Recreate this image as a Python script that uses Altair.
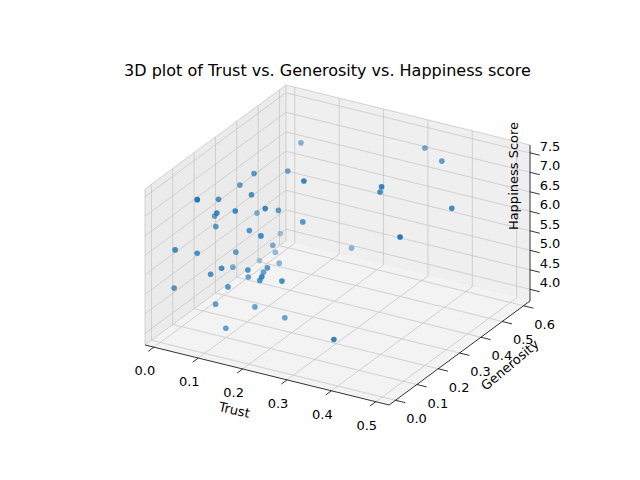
import numpy as np
import pandas as pd
import altair as alt

# ── data ──────────────────────────────────────────────────────────────────────
trust = [0.062, 0.09, 0.2, 0.172, 0.34, 0.31, 0.31, 0.365, 0.45, 0.42,
         0.2, 0.343, 0.062, 0.035, 0.09, 0.145, 0.066, 0.035, 0.062, 0.007,
         0.09, 0.035, 0.117, 0.09, 0.145, 0.035, 0.09, 0.062, 0.062, 0.024,
         0.007, 0.035, 0.09, 0.035, 0.062, 0.117, 0.007, 0.145, 0.117, 0.172,
         0.09, 0.2, 0.145, 0.09, 0.0, 0.062, 0.117, 0.172, 0.09, 0.09]
generosity = [0.53, 0.41, 0.257, 0.31, 0.33, 0.385, 0.595, 0.56, 0.43, 0.25,
              0.48, 0.1, 0.31, 0.30, 0.24, 0.19, 0.036, 0.2, 0.136, 0.24,
              0.164, 0.38, 0.31, 0.23, 0.17, 0.49, 0.34, 0.41, 0.225, 0.21,
              0.055, 0.1, 0.1, 0.267, 0.107, 0.167, 0.45, 0.2, 0.24, 0.118,
              0.37, 0.154, 0.165, 0.13, 0.065, 0.13, 0.2, 0.226, 0.12, 0.225]
happiness = [6.85, 6.69, 7.36, 6.02, 7.31, 6.87, 7.15, 7.11, 6.66, 6.57,
             4.74, 4.33, 6.95, 6.62, 6.77, 6.77, 7.4, 6.66, 6.64, 5.99,
             6.66, 5.58, 6.16, 5.89, 6.15, 4.61, 5.07, 4.53, 5.28, 5.89,
             5.87, 5.68, 5.45, 4.65, 5.19, 5.21, 4.0, 5.21, 4.86, 5.39,
             4.49, 5.21, 5.03, 4.85, 4.83, 4.33, 4.13, 3.9, 3.83, 4.72]

trust_ticks = [0.0, 0.1, 0.2, 0.3, 0.4, 0.5]
gen_ticks = [0.0, 0.1, 0.2, 0.3, 0.4, 0.5, 0.6]
happy_ticks = [4.0, 4.5, 5.0, 5.5, 6.0, 6.5, 7.0, 7.5]

XLIM = (-0.02, 0.53)
YLIM = (-0.03, 0.63)
ZLIM = (3.7, 7.7)

# ── projection (elev 30, azim -60, box aspect 4:4:3) ──────────────────────────
AZ, EL = np.radians(-60), np.radians(30)
R = np.array([-np.sin(AZ), np.cos(AZ), 0.0])
U = np.array([-np.sin(EL) * np.cos(AZ), -np.sin(EL) * np.sin(AZ), np.cos(EL)])
E = np.array([np.cos(EL) * np.cos(AZ), np.cos(EL) * np.sin(AZ), np.sin(EL)])


def norm(x, y, z):
    xn = (np.asarray(x) - XLIM[0]) / (XLIM[1] - XLIM[0]) - 0.5
    yn = (np.asarray(y) - YLIM[0]) / (YLIM[1] - YLIM[0]) - 0.5
    zn = ((np.asarray(z) - ZLIM[0]) / (ZLIM[1] - ZLIM[0]) - 0.5) * 0.75
    return np.stack([xn, yn, zn], axis=-1)


def project(p):
    p = np.atleast_2d(p)
    return p @ R, p @ U, p @ E


def seg_frame(segs, group):
    rows = []
    for i, (a, b) in enumerate(segs):
        for k, q in enumerate((a, b)):
            sx, su, _ = project(np.array(q))
            rows.append(dict(id=f'{group}{i}', k=k, sx=sx[0], su=su[0]))
    return pd.DataFrame(rows)


H = 0.375
corners = np.array([[x, y, z] for x in (-.5, .5) for y in (-.5, .5) for z in (-H, H)])
csx, csu, _ = project(corners)
xs = alt.Scale(domain=[float(csx.min()), float(csx.max())], nice=False, zero=False)
ys = alt.Scale(domain=[float(csu.min()), float(csu.max())], nice=False, zero=False)
X = lambda: alt.X('sx:Q', scale=xs, axis=None)
Y = lambda: alt.Y('su:Q', scale=ys, axis=None, stack=None)

# ── panes ─────────────────────────────────────────────────────────────────────
def polygon_area(verts, name):
    sx, su, _ = project(np.array(verts))
    pts = list(zip(sx, su))
    n = len(pts)
    rows = []
    for xv in sorted(set(np.round(sx, 9))):
        hits = []
        for i in range(n):
            (x1, y1), (x2, y2) = pts[i], pts[(i + 1) % n]
            lo, hi = min(x1, x2) - 1e-9, max(x1, x2) + 1e-9
            if lo <= xv <= hi:
                if abs(x2 - x1) < 1e-9:
                    hits += [y1, y2]
                else:
                    hits.append(y1 + (y2 - y1) * (xv - x1) / (x2 - x1))
        rows.append(dict(pane=name, sx=xv, su=max(hits), su2=min(hits)))
    return pd.DataFrame(rows)


panes = pd.concat([
    polygon_area([[-.5, -.5, -H], [.5, -.5, -H], [.5, .5, -H], [-.5, .5, -H]], 'floor'),
    polygon_area([[-.5, -.5, -H], [-.5, .5, -H], [-.5, .5, H], [-.5, -.5, H]], 'xwall'),
    polygon_area([[-.5, .5, -H], [.5, .5, -H], [.5, .5, H], [-.5, .5, H]], 'ywall'),
])
pane_layer = alt.Chart(panes).mark_area(strokeWidth=0).encode(
    x=X(), y=Y(), y2='su2:Q', detail='pane:N',
    color=alt.Color('pane:N', legend=None, scale=alt.Scale(
        domain=['floor', 'xwall', 'ywall'], range=['#f3f3f3', '#ebebeb', '#efefef'])),
)

# ── grid lines ────────────────────────────────────────────────────────────────
xt = norm(trust_ticks, [0] * 6, [4] * 6)[:, 0]
yt = norm([0] * 7, gen_ticks, [4] * 7)[:, 1]
zt = norm([0] * 8, [0] * 8, happy_ticks)[:, 2]

grid_segs = []
for x in xt:
    grid_segs += [([x, -.5, -H], [x, .5, -H]), ([x, .5, -H], [x, .5, H])]
for y in yt:
    grid_segs += [([-.5, y, -H], [.5, y, -H]), ([-.5, y, -H], [-.5, y, H])]
for z in zt:
    grid_segs += [([-.5, -.5, z], [-.5, .5, z]), ([-.5, .5, z], [.5, .5, z])]
edge_segs = [([-.5, -.5, H], [-.5, .5, H]), ([-.5, .5, H], [.5, .5, H]),
             ([-.5, -.5, -H], [-.5, -.5, H]), ([-.5, .5, -H], [-.5, .5, H]),
             ([-.5, -.5, -H], [-.5, .5, -H])]

grid_layer = alt.Chart(seg_frame(grid_segs + edge_segs, 'g')).mark_line(
    color='#c8c8c8', strokeWidth=0.8).encode(x=X(), y=Y(), detail='id:N', order='k:Q')

# ── axis lines and ticks ──────────────────────────────────────────────────────
axis_segs = [([-.5, -.5, -H], [.5, -.5, -H]), ([.5, -.5, -H], [.5, .5, -H]),
             ([.5, .5, -H], [.5, .5, H])]
axis_segs += [([x, -.5, -H], [x, -.54, -H]) for x in xt]
axis_segs += [([.5, y, -H], [.54, y, -H]) for y in yt]
axis_segs += [([.5, .5, z], [.54, .5, z]) for z in zt]
axis_layer = alt.Chart(seg_frame(axis_segs, 'a')).mark_line(
    color='black', strokeWidth=0.8).encode(x=X(), y=Y(), detail='id:N', order='k:Q')


def label_frame(pts, texts):
    sx, su, _ = project(np.array(pts))
    return pd.DataFrame(dict(sx=sx, su=su, t=texts))


FONT = 'DejaVu Sans'
xlab = alt.Chart(label_frame([[x, -.5, -H] for x in xt], [f'{v:.1f}' for v in trust_ticks])).mark_text(
    font=FONT, fontSize=13, dx=-9, dy=24).encode(x=X(), y=Y(), text='t:N')
ylab = alt.Chart(label_frame([[.5, y, -H] for y in yt], [f'{v:.1f}' for v in gen_ticks])).mark_text(
    font=FONT, fontSize=13, dx=21, dy=19).encode(x=X(), y=Y(), text='t:N')
zlab = alt.Chart(label_frame([[.5, .5, z] for z in zt], [f'{v:.1f}' for v in happy_ticks])).mark_text(
    font=FONT, fontSize=13, dx=20, dy=-6).encode(x=X(), y=Y(), text='t:N')

titles = label_frame([[0, -.5, -H], [.5, 0, -H], [.5, .5, 0]], ['Trust', 'Generosity', 'Happiness Score'])
titles['angle'] = [13, 320, 270]
titles['dx'] = [-24, 31, 47]
titles['dy'] = [42, 42, -16]
title_layers = [
    alt.Chart(titles.iloc[[i]]).mark_text(
        font=FONT, fontSize=13, angle=int(titles.angle[i]),
        dx=int(titles.dx[i]), dy=int(titles.dy[i])).encode(x=X(), y=Y(), text='t:N')
    for i in range(3)
]

# ── points ────────────────────────────────────────────────────────────────────
P = norm(trust, generosity, happiness)
psx, psu, pdepth = project(P)
pts = pd.DataFrame(dict(sx=psx, su=psu, depth=pdepth))
pts = pts.sort_values('depth')
point_layer = alt.Chart(pts).mark_circle(size=32, color='#1f77b4').encode(
    x=X(), y=Y(), order='depth:Q',
    opacity=alt.Opacity('depth:Q', legend=None, scale=alt.Scale(range=[0.35, 1.0])),
)

chart = alt.layer(
    pane_layer, grid_layer, axis_layer, xlab, ylab, zlab, *title_layers, point_layer
).properties(
    width=385, height=320,
    autosize=alt.AutoSizeParams(type='none'),
    padding={'left': 137, 'top': 77, 'right': 100, 'bottom': 70},
    title=alt.TitleParams('3D plot of Trust vs. Generosity vs. Happiness score',
                          font=FONT, fontSize=16, fontWeight='normal', dx=-10),
).resolve_scale(color='independent').configure_view(stroke=None)

chart.save('out.html', embed_options={'renderer': 'svg', 'actions': False})
